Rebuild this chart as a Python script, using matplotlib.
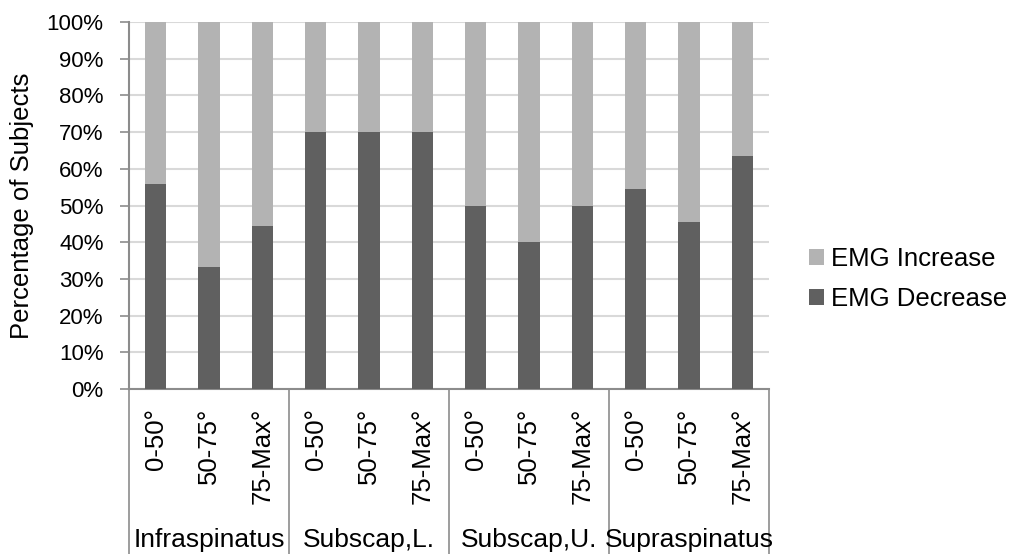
import matplotlib.pyplot as plt
import matplotlib.transforms as mtransforms
import numpy as np

plt.rcParams['font.family'] = ['Liberation Sans', 'DejaVu Sans']

# data
groups = ["Infraspinatus", "Subscap,L.", "Subscap,U.", "Supraspinatus"]
ranges = ["0-50°", "50-75°", "75-Max°"]
emg_decrease = [55.9, 33.3, 44.4, 70.0, 70.0, 70.0, 50.0, 40.0, 50.0, 54.5, 45.5, 63.6]
emg_increase = [100 - v for v in emg_decrease]

col_dec = "#606060"
col_inc = "#b3b3b3"
axis_col = "#8c8c8c"

n = len(groups) * len(ranges)
x = np.arange(n)

fig = plt.figure(figsize=(10.13, 5.54), dpi=100)
ax = fig.add_axes([129 / 1013, 1 - 389 / 554, 640 / 1013, 367 / 554])

ax.bar(x, emg_decrease, width=0.4, color=col_dec, label="EMG Decrease", zorder=3)
ax.bar(x, emg_increase, width=0.4, bottom=emg_decrease, color=col_inc,
       label="EMG Increase", zorder=3)

ax.set_xlim(-0.5, n - 0.5)
ax.set_ylim(0, 100)
ax.set_yticks(np.arange(0, 101, 10))
ax.set_yticklabels([f"{v}%" for v in range(0, 101, 10)], fontsize=16)
ax.yaxis.grid(True, color="#d9d9d9", linewidth=1.5, zorder=0)
ax.set_axisbelow(True)

ax.set_xticks(x)
ax.set_xticklabels(ranges * len(groups), rotation=90, fontsize=18.5)
ax.tick_params(axis="x", length=0, pad=13.5)
ax.tick_params(axis="y", length=6.2, color=axis_col, width=1.2, pad=12)

for side in ["top", "right"]:
    ax.spines[side].set_visible(False)
for side in ["left", "bottom"]:
    ax.spines[side].set_color(axis_col)
    ax.spines[side].set_linewidth(1.5)

# group separators and labels below the axis
trans = mtransforms.blended_transform_factory(ax.transData, ax.transAxes)
bottom_y = -(389 / 554) / (367 / 554)
for g in range(len(groups) + 1):
    xs = g * len(ranges) - 0.5
    ax.plot([xs, xs], [0, bottom_y], color=axis_col, lw=1.2, transform=trans, clip_on=False)
for g, name in enumerate(groups):
    xc = g * len(ranges) + (len(ranges) - 1) / 2
    ax.text(xc, -(547 - 389) / 367, name, transform=trans, ha="center", va="baseline", fontsize=19)

fig.text(22 / 1013, 1 - 206 / 554, "Percentage of Subjects", rotation=90,
         ha="center", va="center", fontsize=18.5)

handles, labels = ax.get_legend_handles_labels()
fig.legend(handles[::-1], labels[::-1], loc="center left", bbox_to_anchor=(0.799, 0.496),
           frameon=False, fontsize=18.5, handlelength=0.55, handleheight=0.55,
           handletextpad=0.3, labelspacing=0.62, borderaxespad=0, borderpad=0)

fig.savefig("out.png", dpi=100)
